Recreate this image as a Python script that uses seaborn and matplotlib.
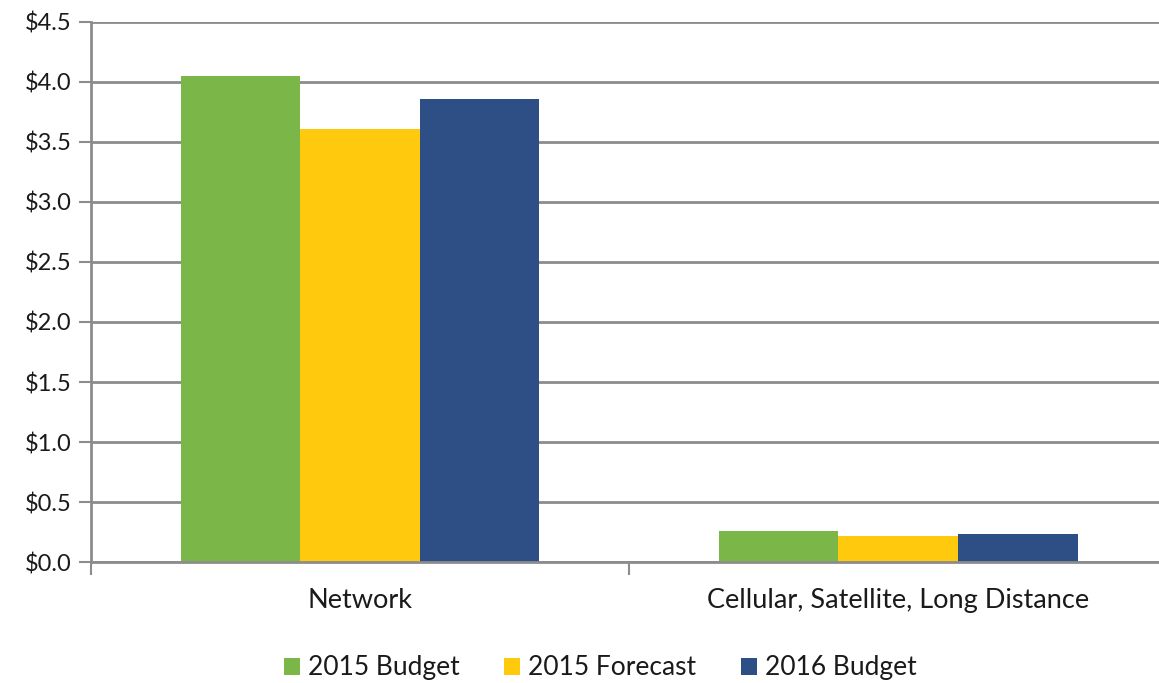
import matplotlib
matplotlib.use("Agg")
import matplotlib.pyplot as plt
import seaborn as sns
import pandas as pd
from matplotlib.ticker import FuncFormatter, FixedLocator

categories = ["Network", "Cellular, Satellite, Long Distance"]
series_names = ["2015 Budget", "2015 Forecast", "2016 Budget"]
budget_2015 = [4.05, 0.26]
forecast_2015 = [3.61, 0.22]
budget_2016 = [3.86, 0.23]
y_ticks = [0.0, 0.5, 1.0, 1.5, 2.0, 2.5, 3.0, 3.5, 4.0, 4.5]
colors = ["#7ab648", "#ffc90e", "#2e4f85"]

rows = []
for name, vals in zip(series_names, [budget_2015, forecast_2015, budget_2016]):
    for cat, v in zip(categories, vals):
        rows.append({"category": cat, "series": name, "value": v})
df = pd.DataFrame(rows)

sns.set_theme(style="white")
plt.rcParams["font.family"] = ["Lato", "DejaVu Sans"]

fig = plt.figure(figsize=(11.59, 6.83), dpi=100)
ax = fig.add_axes([0.0785, 0.177, 0.9285, 0.791])

sns.barplot(data=df, x="category", y="value", hue="series", order=categories,
            hue_order=series_names, palette=colors, width=0.667, saturation=1,
            linewidth=0, ax=ax, legend=True)

grid_color = "#8c8c8c"
text_color = "#1a1a1a"
ax.set_ylim(0, 4.5)
ax.set_xlim(-0.5, 1.5)
ax.yaxis.set_major_locator(FixedLocator(y_ticks))
ax.yaxis.set_major_formatter(FuncFormatter(lambda v, p: f"${v:.1f}"))
ax.yaxis.grid(True, color=grid_color, linewidth=2)
ax.set_axisbelow(True)
ax.tick_params(axis="y", which="major", left=True, length=9, width=1.5,
               color=grid_color, labelsize=17, labelcolor=text_color, pad=5)
ax.tick_params(axis="x", which="major", length=0, labelsize=19.5,
               labelcolor=text_color, pad=19)
ax.xaxis.set_minor_locator(FixedLocator([-0.5, 0.5, 1.5]))
ax.tick_params(axis="x", which="minor", bottom=True, length=9, width=1.5,
               color=grid_color)
ax.set_xlabel("")
ax.set_ylabel("")

for side in ["top", "right"]:
    ax.spines[side].set_visible(False)
for side in ["left", "bottom"]:
    ax.spines[side].set_color(grid_color)
    ax.spines[side].set_linewidth(2)

handles, labels = ax.get_legend_handles_labels()
ax.get_legend().remove()
fig.legend(handles, labels, loc="center", bbox_to_anchor=(0.518, 0.022),
           ncol=3, frameon=False, fontsize=19, handlelength=0.6,
           handleheight=0.6, handletextpad=0.3, columnspacing=1.7,
           labelcolor=text_color)

fig.savefig("out.png", dpi=100)
